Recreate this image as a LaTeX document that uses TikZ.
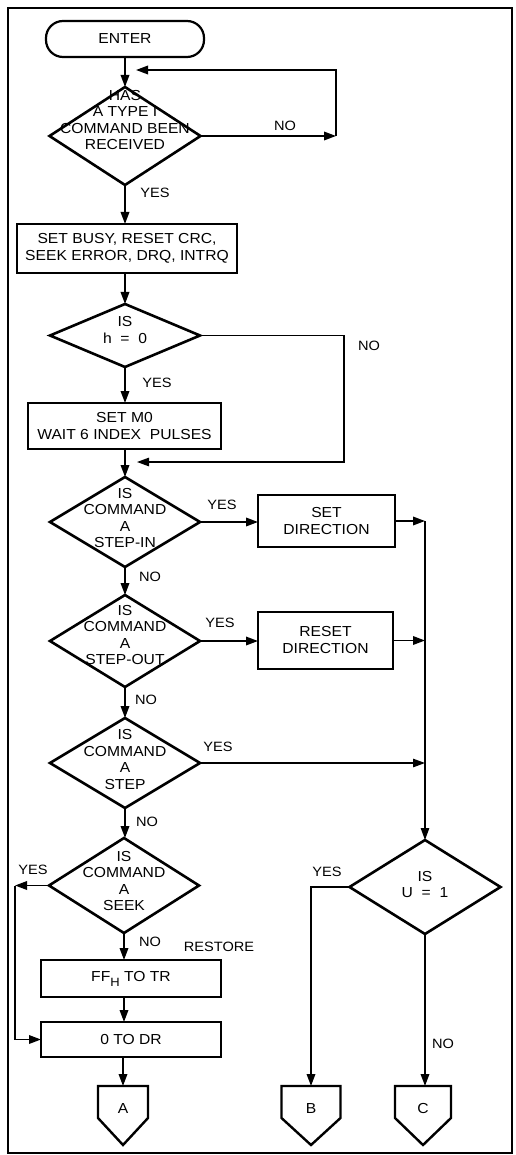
\documentclass[tikz,border=0pt]{standalone}
\usepackage{fontspec}
\setmainfont{Liberation Sans}[FakeStretch=1.08]
\usetikzlibrary{shapes.geometric,arrows.meta,calc}
\begin{document}
\begin{tikzpicture}[x=1pt,y=-1pt,
  every node/.style={font=\fontsize{14.5}{17}\selectfont, inner sep=0pt, outer sep=0pt},
  box/.style={draw, line width=2.8pt, rectangle, align=center},
  dec/.style={draw, line width=2.6pt, diamond},
  dtext/.style={align=center, font=\fontsize{14.5}{16.6}\selectfont},
  lab/.style={font=\fontsize{13.5}{16}\selectfont},
  flow/.style={line width=1.8pt, -{Triangle[length=12pt,width=8.5pt]}},
  thinflow/.style={line width=1.2pt, -{Triangle[length=12pt,width=8.5pt]}},
  offpage/.style={minimum height=44pt},
  offline/.style={line width=2.4pt, line join=miter},
]
\useasboundingbox (0,0) rectangle (515,1155);
\draw[line width=1.4pt] (8,8) rectangle (512,1153);

% main column
\node[draw, line width=2.2pt, rounded corners=17pt, minimum width=158pt, minimum height=36pt] (enter) at (125,39) {ENTER};

\node[dec, minimum width=151pt, minimum height=98pt] (d1) at (125,136) {};
\node[dtext] (d1t) at (125,120) {HAS\\A TYPE I\\COMMAND BEEN\\RECEIVED};

\node[box, minimum width=220pt, minimum height=49pt] (box1) at (127,248.5) {SET BUSY, RESET CRC,\\SEEK ERROR, DRQ, INTRQ};

\node[dec, minimum width=150pt, minimum height=63pt] (d2) at (125,335.5) {};
\node[dtext] (d2t) at (125,330) {IS\\h\ \ =\ \ 0};

\node[box, minimum width=193pt, minimum height=46pt] (box2) at (124.5,426) {SET M0\\WAIT 6 INDEX\ \ PULSES};

\node[dec, minimum width=150pt, minimum height=90pt] (d3) at (125,522) {};
\node[dtext] (d3t) at (125,518) {IS\\COMMAND\\A\\STEP-IN};
\node[box, minimum width=137pt, minimum height=52pt] (box3) at (326.5,521) {SET\\DIRECTION};

\node[dec, minimum width=150pt, minimum height=92pt] (d4) at (125,641) {};
\node[dtext] (d4t) at (125,635) {IS\\COMMAND\\A\\STEP-OUT};
\node[box, minimum width=135pt, minimum height=57pt] (box4) at (325.5,640.5) {RESET\\DIRECTION};

\node[dec, minimum width=150pt, minimum height=90pt] (d5) at (125,763) {};
\node[dtext] (d5t) at (125,759.5) {IS\\COMMAND\\A\\STEP};

\node[dec, minimum width=150pt, minimum height=95pt] (d6) at (124,885.5) {};
\node[dtext] (d6t) at (124,881) {IS\\COMMAND\\A\\SEEK};

\node[box, minimum width=180pt, minimum height=37pt] (box5) at (131,978.5) {FF\raisebox{-0.35em}{\fontsize{12}{12}\selectfont H} TO TR};
\node[box, minimum width=180pt, minimum height=35pt] (box6) at (131,1039.5) {0 TO DR};

\node[dec, minimum width=151pt, minimum height=94pt] (du) at (425,887) {};
\node[dtext] (dut) at (425,884.5) {IS\\U\ \ =\ \ 1};

% off-page connectors
\node[offpage, minimum width=50pt] (A) at (123,1108) {A};
\node[offpage, minimum width=59pt] (B) at (311,1108) {B};
\node[offpage, minimum width=56pt] (C) at (423,1108) {C};
\foreach \n in {A,B,C}{
  \draw[offline] (\n.north west) -- (\n.north east) -- ([yshift=-32pt]\n.north east)
     -- ([yshift=-59pt]\n.north) -- ([yshift=-32pt]\n.north west) -- cycle;
}

% labels
\node[lab] (y1) at (155,193) {YES};
\node[lab] (n1l) at (285,126) {NO};
\node[lab] (y2) at (157,383) {YES};
\node[lab] (n2l) at (369,346) {NO};
\node[lab] (y3) at (222,505) {YES};
\node[lab] (n3l) at (150,577) {NO};
\node[lab] (y4) at (220,623) {YES};
\node[lab] (n4l) at (146,700) {NO};
\node[lab] (y5) at (218,747) {YES};
\node[lab] (n5l) at (147,822) {NO};
\node[lab] (y6) at (33,870) {YES};
\node[lab] (n6l) at (150,942) {NO};
\node[lab] (rest) at (219,947) {RESTORE};
\node[lab] (yu) at (327,872) {YES};
\node[lab] (nu) at (443,1044) {NO};

% coordinates
\coordinate (l1) at (336,136);
\coordinate (l2) at (336,70);
\coordinate (l3) at (136,70);
\coordinate (m1) at (344,335.5);
\coordinate (m2) at (344,462);
\coordinate (m3) at (137,462);
\coordinate (r1) at (425,521);
\coordinate (r2) at (425,640.5);
\coordinate (r3) at (425,763);
\coordinate (s1) at (15,885.5);
\coordinate (s2) at (15,1039.5);
\coordinate (b1) at (311,887);

% connectors
\draw[flow] (enter.south) -- (d1.north);
\draw[flow] (d1.east) -- (l1);
\draw[flow] (l1) -- (l2) -- (l3);
\draw[flow] (d1.south) -- (d1.south |- box1.north);
\draw[flow] (d2.north |- box1.south) -- (d2.north);
\draw[thinflow] (d2.east) -- (m1) -- (m2) -- (m3);
\draw[flow] (d2.south) -- (d2.south |- box2.north);
\draw[flow] (d3.north |- box2.south) -- (d3.north);
\draw[flow] (d3.east) -- (d3.east -| box3.west);
\draw[flow] (box3.east) -- (r1);
\draw[flow] (d3.south) -- (d4.north);
\draw[flow] (d4.east) -- (d4.east -| box4.west);
\draw[flow] (box4.east) -- (r2);
\draw[flow] (d4.south) -- (d5.north);
\draw[thinflow] (d5.east) -- (r3);
\draw[thinflow] (r1) -- (du.north);
\draw[flow] (d5.south) -- (d5.south |- d6.north);
\draw[flow] (d6.west) -- (s1);
\draw[flow] (s1) -- (s2) -- (box6.west);
\draw[flow] (d6.south) -- (d6.south |- box5.north);
\draw[flow] (d6.south |- box5.south) -- (d6.south |- box6.north);
\draw[flow] (A.north |- box6.south) -- (A.north);
\draw[flow] (du.west) -- (b1) -- (b1 |- B.north);
\draw[flow] (du.south) -- (du.south |- C.north);
\end{tikzpicture}
\end{document}
